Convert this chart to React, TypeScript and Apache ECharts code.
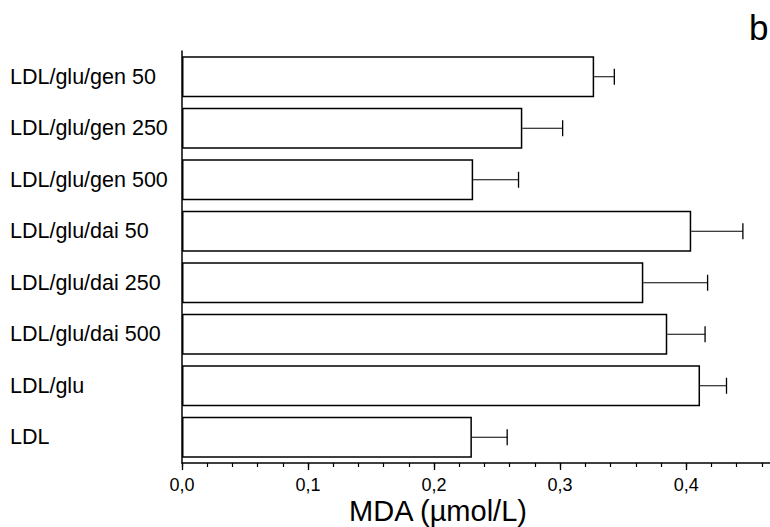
import React, { useEffect, useRef } from "react";
import * as echarts from "echarts";

const categories = [
  "LDL/glu/gen 50",
  "LDL/glu/gen 250",
  "LDL/glu/gen 500",
  "LDL/glu/dai 50",
  "LDL/glu/dai 250",
  "LDL/glu/dai 500",
  "LDL/glu",
  "LDL",
];
const means = [0.327, 0.27, 0.231, 0.404, 0.366, 0.385, 0.411, 0.23];
const errors = [0.016, 0.032, 0.036, 0.041, 0.051, 0.03, 0.021, 0.028];
const axisTitle = "MDA (µmol/L)";
const panelLetter = "b";

const FONT = "'Liberation Sans', Arial, Helvetica, sans-serif";

export default function App() {
  const ref = useRef<HTMLDivElement>(null);
  useEffect(() => {
    if (!ref.current) return;
    const chart = echarts.init(ref.current, undefined, { renderer: "svg" });
    const errData = means.map((m, i) => [m, m + errors[i], i]);
    chart.setOption({
      animation: false,
      backgroundColor: "#ffffff",
      grid: { left: 182, right: 0, top: 51, bottom: 64, containLabel: false },
      xAxis: [
        {
          type: "value",
          min: 0,
          max: 0.48,
          interval: 0.1,
          position: "bottom",
          axisLine: { show: true, lineStyle: { color: "#000", width: 1.5 } },
          axisTick: { show: true, inside: false, length: 7, lineStyle: { color: "#000", width: 1.3 } },
          axisLabel: {
            show: true,
            margin: 13,
            fontSize: 18,
            color: "#000",
            fontFamily: FONT,
            showMaxLabel: false,
            formatter: (v: number) => v.toFixed(1).replace(".", ","),
          },
          splitLine: { show: false },
        },
        {
          type: "value",
          min: 0,
          max: 0.48,
          interval: 0.02,
          position: "bottom",
          axisLine: { show: false },
          axisTick: { show: true, inside: false, length: 4, lineStyle: { color: "#000", width: 1.2 } },
          axisLabel: { show: false },
          splitLine: { show: false },
        },
      ],
      yAxis: {
        type: "category",
        inverse: true,
        data: categories,
        axisLine: { show: true, lineStyle: { color: "#000", width: 1.5 } },
        axisTick: { show: false },
        axisLabel: {
          align: "left",
          margin: 172,
          fontSize: 21.5,
          color: "#000",
          fontFamily: FONT,
        },
        splitLine: { show: false },
      },
      series: [
        {
          type: "bar",
          xAxisIndex: 0,
          data: means,
          barWidth: 41,
          itemStyle: { color: "#ffffff", borderColor: "#000", borderWidth: 1.5 },
          z: 2,
        },
        {
          type: "custom",
          xAxisIndex: 0,
          data: errData,
          encode: { x: [0, 1], y: 2 },
          z: 3,
          renderItem: (params: any, api: any) => {
            const cat = api.value(2);
            const lo = api.coord([api.value(0), cat]);
            const hi = api.coord([api.value(1), cat]);
            return {
              type: "group",
              children: [
                {
                  type: "line",
                  shape: { x1: lo[0], y1: lo[1], x2: hi[0], y2: hi[1] },
                  style: { stroke: "#000", lineWidth: 1 },
                },
                {
                  type: "line",
                  shape: { x1: hi[0], y1: hi[1] - 8, x2: hi[0], y2: hi[1] + 8 },
                  style: { stroke: "#000", lineWidth: 1.3 },
                },
              ],
            };
          },
        },
      ],
      graphic: [
        {
          type: "text",
          x: 438,
          y: 511,
          style: {
            text: axisTitle,
            font: `29px ${FONT}`,
            fill: "#000",
            textAlign: "center",
            textVerticalAlign: "middle",
          },
        },
        {
          type: "text",
          x: 749,
          y: 27,
          style: {
            text: panelLetter,
            font: `35px ${FONT}`,
            fill: "#000",
            textAlign: "left",
            textVerticalAlign: "middle",
          },
        },
      ],
    });
    return () => chart.dispose();
  }, []);
  return (
    <div
      style={{
        position: "fixed",
        left: 0,
        top: 0,
        width: 770,
        height: 527,
        overflow: "hidden",
        background: "#fff",
      }}
    >
      <div ref={ref} style={{ width: 787, height: 527 }} />
    </div>
  );
}
